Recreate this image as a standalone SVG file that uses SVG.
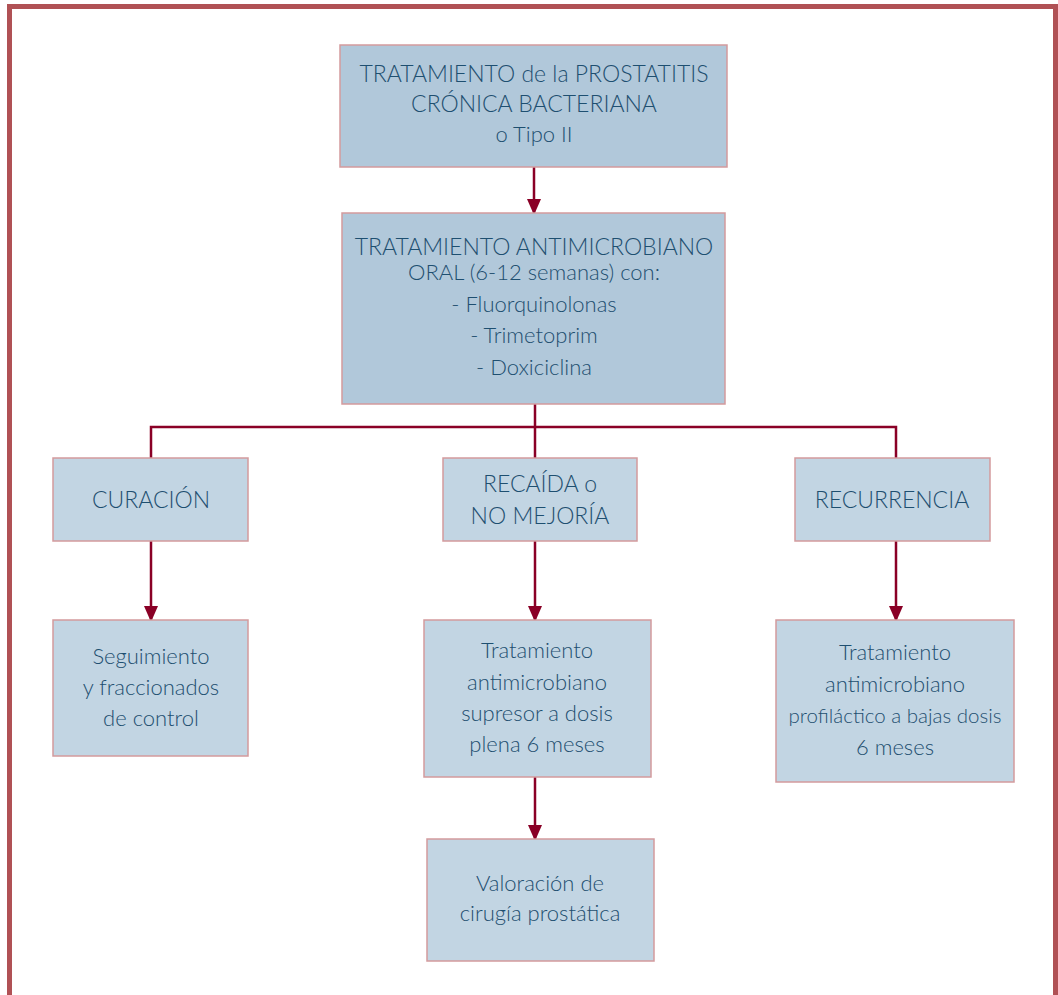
<svg xmlns="http://www.w3.org/2000/svg" width="1058" height="995" viewBox="0 0 1058 995">
<style>
.frame{fill:none;stroke:#b05155;stroke-width:5}
.bx{stroke:#d39a9d;stroke-width:1.5}
.dark{fill:#b1c8da}
.light{fill:#c2d5e3}
text{font-family:Lato,"Open Sans","DejaVu Sans",sans-serif;font-size:22px;font-weight:300;fill:#1e4f70;text-anchor:middle}
.cap{font-size:23px}
.c{fill:none;stroke:#8a0026;stroke-width:2.5}
</style>
<defs>
<marker id="ah" markerWidth="16" markerHeight="14" refX="14" refY="7" orient="auto" markerUnits="userSpaceOnUse" viewBox="0 0 16 14">
<path d="M0,0 L16,7 L0,14 Z" fill="#8a0026"/>
</marker>
</defs>
<rect class="frame" x="9.5" y="6.5" width="1046" height="1000"/>
<g id="connectors">
<line class="c" x1="534" y1="167" x2="534" y2="213" marker-end="url(#ah)"/>
<line class="c" x1="535" y1="404" x2="535" y2="427"/>
<polyline class="c" points="151,458 151,427 896,427 896,458"/>
<line class="c" x1="535" y1="427" x2="535" y2="458"/>
<line class="c" x1="151" y1="541" x2="151" y2="620" marker-end="url(#ah)"/>
<line class="c" x1="535" y1="541" x2="535" y2="620" marker-end="url(#ah)"/>
<line class="c" x1="896" y1="541" x2="896" y2="620" marker-end="url(#ah)"/>
<line class="c" x1="535" y1="777" x2="535" y2="839" marker-end="url(#ah)"/>
</g>
<g id="n1"><rect class="bx dark" x="340" y="45" width="387" height="122"/>
<text class="cap" x="534" y="82">TRATAMIENTO de la PROSTATITIS</text>
<text class="cap" x="534" y="112">CRÓNICA BACTERIANA</text>
<text x="534" y="142">o Tipo II</text></g>
<g id="n2"><rect class="bx dark" x="342" y="213" width="383" height="191"/>
<text class="cap" x="534" y="255">TRATAMIENTO ANTIMICROBIANO</text>
<text x="534" y="280">ORAL (6-12 semanas) con:</text>
<text x="534" y="312">- Fluorquinolonas</text>
<text x="534" y="343">- Trimetoprim</text>
<text x="534" y="375">- Doxiciclina</text></g>
<g id="n3"><rect class="bx light" x="53" y="458" width="195" height="83"/>
<text class="cap" x="151" y="508">CURACIÓN</text></g>
<g id="n4"><rect class="bx light" x="443" y="458" width="194" height="83"/>
<text class="cap" x="540" y="492">RECAÍDA o</text>
<text class="cap" x="540" y="524">NO MEJORÍA</text></g>
<g id="n5"><rect class="bx light" x="795" y="458" width="195" height="83"/>
<text class="cap" x="892" y="508">RECURRENCIA</text></g>
<g id="n6"><rect class="bx light" x="53" y="620" width="195" height="136"/>
<text x="151" y="664">Seguimiento</text>
<text x="151" y="695">y fraccionados</text>
<text x="151" y="726">de control</text></g>
<g id="n7"><rect class="bx light" x="424" y="620" width="227" height="157"/>
<text x="537" y="658">Tratamiento</text>
<text x="537" y="690">antimicrobiano</text>
<text x="537" y="721">supresor a dosis</text>
<text x="537" y="752">plena 6 meses</text></g>
<g id="n8"><rect class="bx light" x="776" y="620" width="238" height="162"/>
<text x="895" y="660">Tratamiento</text>
<text x="895" y="692">antimicrobiano</text>
<text x="895" y="723" style="font-size:20.5px">profiláctico a bajas dosis</text>
<text x="895" y="755">6 meses</text></g>
<g id="n9"><rect class="bx light" x="427" y="839" width="227" height="122"/>
<text x="540" y="891">Valoración de</text>
<text x="540" y="921">cirugía prostática</text></g>
</svg>
